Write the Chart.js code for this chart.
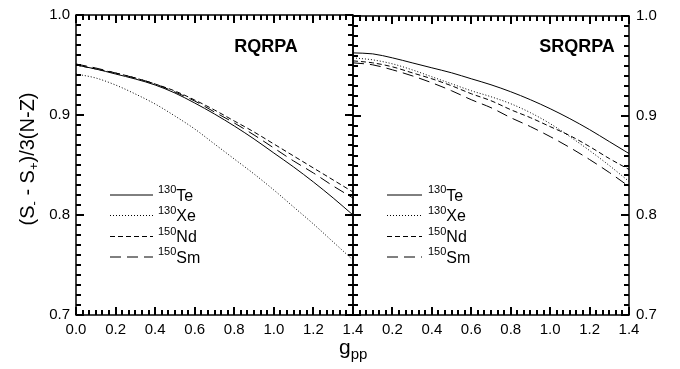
<!DOCTYPE html>
<html>
<head>
<meta charset="utf-8">
<script src="https://cdn.jsdelivr.net/npm/chart.js@4.4.1/dist/chart.umd.min.js"></script>
<style>
body{margin:0;background:#fff;}
#wrap{position:relative;width:680px;height:369px;overflow:hidden;}
canvas{position:absolute;top:0;}
#left{left:0;}
#right{left:340px;}
</style>
</head>
<body>
<div id="wrap">
<canvas id="left" width="380" height="369"></canvas>
<canvas id="right" width="340" height="369"></canvas>
</div>
<script>
// g_pp grid shared by both panels
const gpp = [0.0,0.1,0.2,0.3,0.4,0.5,0.6,0.7,0.8,0.9,1.0,1.1,1.2,1.3,1.4];

// RQRPA
const rqrpaTe = [0.950,0.946,0.941,0.936,0.930,0.922,0.912,0.901,0.889,0.876,0.862,0.848,0.833,0.817,0.800];
const rqrpaXe = [0.941,0.937,0.930,0.921,0.911,0.899,0.886,0.871,0.856,0.841,0.825,0.808,0.791,0.773,0.755];
const rqrpaNd = [0.950,0.946,0.942,0.937,0.931,0.924,0.915,0.905,0.894,0.883,0.871,0.859,0.847,0.835,0.823];
const rqrpaSm = [0.951,0.947,0.942,0.937,0.931,0.923,0.914,0.903,0.892,0.880,0.867,0.854,0.842,0.829,0.817];

// SRQRPA
const srqrpaTe = [0.963,0.962,0.958,0.953,0.948,0.943,0.937,0.931,0.924,0.916,0.907,0.897,0.886,0.874,0.862];
const srqrpaXe = [0.958,0.956,0.952,0.946,0.939,0.932,0.925,0.919,0.912,0.903,0.892,0.879,0.865,0.850,0.834];
const srqrpaNd = [0.955,0.953,0.949,0.943,0.937,0.930,0.922,0.915,0.906,0.898,0.889,0.880,0.869,0.857,0.846];
const srqrpaSm = [0.953,0.951,0.946,0.940,0.933,0.925,0.916,0.908,0.898,0.889,0.879,0.868,0.856,0.843,0.829];

const massNumbers = ["130","130","150","150"];
const elements = ["Te","Xe","Nd","Sm"];
const dashes = [[], [1,2], [5,3], [11,6]];

const FONT = "'Liberation Sans', Arial, Helvetica, sans-serif";
Chart.defaults.font.family = FONT;
Chart.defaults.color = "#000";

function makeSets(series){
    return series.map((vals,i)=>({
        label: massNumbers[i]+elements[i],
        data: gpp.map((x,j)=>({x:x, y:vals[j]})),
        borderColor:"#000",
        borderWidth:1,
        borderDash:dashes[i],
        pointRadius:0,
        fill:false,
        cubicInterpolationMode:"monotone"
    }));
}

// draw a run of text pieces (for sub/superscripts)
function drawRuns(ctx, runs, x, y){
    let cx = x;
    runs.forEach(r=>{
        ctx.font = r.size + "px " + FONT;
        ctx.fillText(r.t, cx, y + (r.dy||0));
        cx += ctx.measureText(r.t).width;
    });
}
function runsWidth(ctx, runs){
    let w = 0;
    runs.forEach(r=>{
        ctx.font = r.size + "px " + FONT;
        w += ctx.measureText(r.t).width;
    });
    return w;
}

// frame, inward ticks, panel name and legend
const panelPlugin = {
    id:"panel",
    afterDraw(chart){
        const opts = chart.options.plugins.panel;
        const ctx = chart.ctx;
        const a = chart.chartArea;
        const xs = chart.scales.x, ys = chart.scales.y;
        ctx.save();
        ctx.setLineDash([]);
        ctx.globalAlpha = 1;
        ctx.fillStyle = "#000";
        ctx.strokeStyle = "#000";

        // panel name
        ctx.font = "bold 18px " + FONT;
        ctx.textAlign = "center";
        ctx.textBaseline = "middle";
        ctx.fillText(opts.name, opts.nameX, 47);

        // legend
        ctx.textAlign = "left";
        ctx.textBaseline = "alphabetic";
        const rows = [195, 215.5, 236.5, 257];
        chart.data.datasets.forEach((ds,i)=>{
            const y = rows[i];
            ctx.lineWidth = 1;
            ctx.setLineDash(ds.borderDash);
            ctx.beginPath();
            ctx.moveTo(opts.lineX[0], y);
            ctx.lineTo(opts.lineX[1], y);
            ctx.stroke();
            ctx.setLineDash([]);
            drawRuns(ctx, [{t:massNumbers[i], size:11, dy:-2}, {t:elements[i], size:16, dy:5.5}], opts.textX, y);
        });

        // frame
        ctx.lineWidth = 1.5;
        ctx.strokeRect(a.left, a.top, a.right-a.left, a.bottom-a.top);

        // minor/major ticks, pointing inward on all four sides
        ctx.fillStyle = "#000";
        for(let i=0;i<=42;i++){
            const px = Math.round(xs.getPixelForValue(i*0.2/6));
            const len = i%6===0 ? 8 : 5;
            ctx.fillRect(px-1, a.bottom-len, 2, len);
            ctx.fillRect(px-1, a.top, 2, len);
        }
        for(let i=0;i<=30;i++){
            const py = Math.round(ys.getPixelForValue(0.7+i*0.01));
            const len = i%10===0 ? 8 : 5;
            ctx.fillRect(a.left, py-1, len, 2);
            ctx.fillRect(a.right-len, py-1, len, 2);
        }
        ctx.restore();
    }
};

// axis titles, drawn once on the left canvas
const titlesPlugin = {
    id:"titles",
    afterDraw(chart){
        const ctx = chart.ctx;
        ctx.save();
        ctx.fillStyle = "#000";
        ctx.textBaseline = "alphabetic";
        ctx.textAlign = "left";
        const yRuns = [
            {t:"(S", size:20},
            {t:"-", size:13, dy:4},
            {t:" - S", size:20},
            {t:"+", size:13, dy:4},
            {t:")/3(N-Z)", size:20}
        ];
        const w = runsWidth(ctx, yRuns);
        ctx.translate(34, 159);
        ctx.rotate(-Math.PI/2);
        drawRuns(ctx, yRuns, -w/2, 0);
        ctx.restore();

        ctx.save();
        ctx.fillStyle = "#000";
        drawRuns(ctx, [{t:"g", size:21}, {t:"pp", size:15, dy:5}], 339, 354);
        ctx.restore();
    }
};

function baseOptions(side){
    return {
        responsive:false,
        animation:false,
        events:[],
        plugins:{legend:{display:false}, tooltip:{enabled:false}},
        scales:{
            x:{
                type:"linear", min:0, max:1.4,
                grid:{display:false, drawTicks:false},
                border:{display:false},
                ticks:{
                    stepSize:0.2, autoSkip:false, maxRotation:0, padding:6,
                    font:{size:15},
                    callback:(v)=> (side==="right" && Math.abs(v)<1e-9) ? "" : v.toFixed(1)
                },
                afterFit:(s)=>{ s.height = 54; }
            },
            y:{
                type:"linear", min:0.7, max:1.0, position:side,
                grid:{display:false, drawTicks:false},
                border:{display:false},
                ticks:{
                    stepSize:0.1, padding:side==="left" ? 6 : 7,
                    font:{size:15},
                    callback:(v)=> v.toFixed(1)
                },
                afterFit:(s)=>{ s.width = side==="left" ? 76 : 51; }
            }
        }
    };
}

const leftOpts = baseOptions("left");
leftOpts.layout = {padding:{top:13, right:27, bottom:0, left:0}};
leftOpts.plugins.panel = {name:"RQRPA", nameX:266, lineX:[110,153], textX:158};

new Chart(document.getElementById("left"), {
    type:"line",
    data:{datasets:makeSets([rqrpaTe, rqrpaXe, rqrpaNd, rqrpaSm])},
    options:leftOpts,
    plugins:[panelPlugin, titlesPlugin]
});

const rightOpts = baseOptions("right");
rightOpts.layout = {padding:{top:13, right:0, bottom:0, left:13}};
rightOpts.plugins.panel = {name:"SRQRPA", nameX:577-340, lineX:[387-340,422-340], textX:428-340};

new Chart(document.getElementById("right"), {
    type:"line",
    data:{datasets:makeSets([srqrpaTe, srqrpaXe, srqrpaNd, srqrpaSm])},
    options:rightOpts,
    plugins:[panelPlugin]
});
</script>
</body>
</html>
